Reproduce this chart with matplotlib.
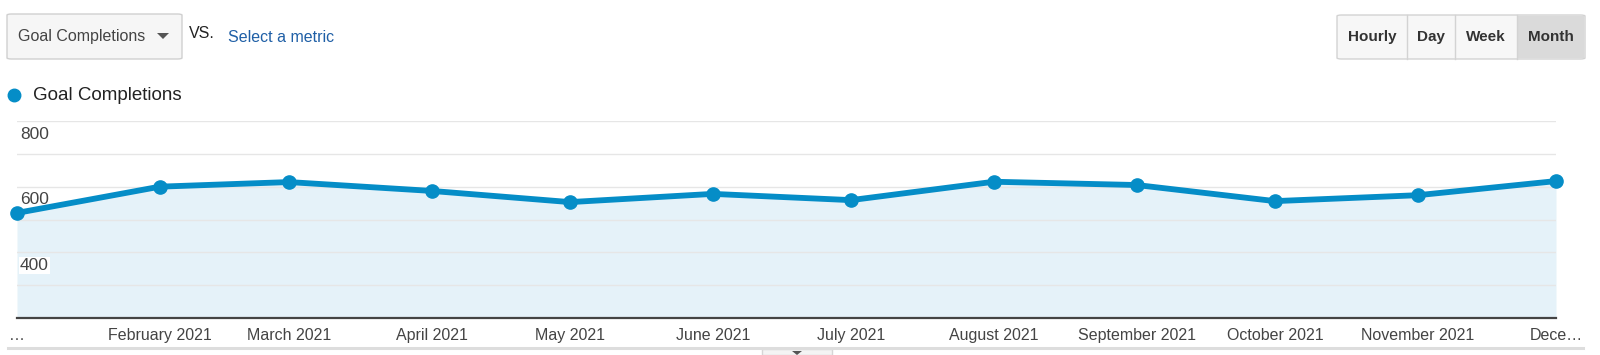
import matplotlib
matplotlib.use("Agg")
import matplotlib.pyplot as plt
from matplotlib.patches import FancyBboxPatch, Rectangle, Polygon
from matplotlib.lines import Line2D
import pandas as pd

plt.rcParams['font.family'] = ['Liberation Sans', 'DejaVu Sans']

# ---- data ----
months = pd.date_range("2021-01-01", periods=12, freq="MS")
goal_completions = [520, 600, 614, 587, 553, 578, 559, 615, 605, 556, 574, 617]
tick_labels = ["\u2026", "February 2021", "March 2021", "April 2021", "May 2021",
               "June 2021", "July 2021", "August 2021", "September 2021",
               "October 2021", "November 2021", "Dece\u2026"]
y_labels = [400, 600, 800]
buttons = ["Hourly", "Day", "Week", "Month"]

LINE = "#058dc7"
FILL = "#e5f2f9"
W, H = 1600, 355


def fx(x):
    return x / W


def fy(y):
    return 1 - y / H


fig = plt.figure(figsize=(16, 3.55), dpi=100)

# ---- main chart ----
ax = fig.add_axes([fx(17), fy(318), fx(1556) - fx(17), fy(121) - fy(318)])
ax.fill_between(months, goal_completions, 200, color=FILL, lw=0, zorder=1)
ax.plot(months, goal_completions, color=LINE, lw=4.2, marker="o", ms=9.5,
        solid_joinstyle="round", zorder=3, clip_on=False)
ax.set_xlim(months[0], months[-1])
ax.set_ylim(200, 800)
for v in range(300, 801, 100):
    ax.axhline(v, color="#e6e6e6", lw=1, zorder=2)
for s in ["top", "left", "right"]:
    ax.spines[s].set_visible(False)
ax.spines["bottom"].set_color("#444444")
ax.spines["bottom"].set_linewidth(1.6)
ax.set_yticks([])
ax.set_xticks(months)
ax.set_xticklabels(tick_labels, fontsize=11.5, color="#444444")
ax.tick_params(axis="x", length=0, pad=7)

# y labels sit inside the plot, just under their gridline (behind the line)
for v in y_labels:
    ax.text(0.002, v - 40, str(v), transform=ax.get_yaxis_transform(),
            fontsize=12.5, color="#444444", va="center", ha="left", zorder=2.5,
            bbox=dict(boxstyle="square,pad=0.05", fc="white", ec="none"))

# ---- top controls ----
fig.patches.append(FancyBboxPatch((fx(7), fy(59)), fx(182) - fx(7), fy(14) - fy(59),
                                  boxstyle="round,pad=0,rounding_size=0.003",
                                  transform=fig.transFigure, fc="#f6f6f6",
                                  ec="#d0d0d0", lw=1))
fig.text(fx(18), fy(37), "Goal Completions", fontsize=11.5, color="#444444", va="center")
fig.patches.append(Polygon([(fx(157), fy(33)), (fx(169), fy(33)), (fx(163), fy(39))],
                           closed=True, transform=fig.transFigure, fc="#555555", ec="none"))
fig.text(fx(189), fy(34), "VS.", fontsize=11.5, color="#222222", va="center")
fig.text(fx(228), fy(37), "Select a metric", fontsize=11.5, color="#1f5fa6", va="center")

# time-granularity buttons
edges = [1337, 1407, 1455, 1517, 1585]
fig.patches.append(FancyBboxPatch((fx(1337), fy(59)), fx(1585) - fx(1337), fy(15) - fy(59),
                                  boxstyle="round,pad=0,rounding_size=0.003",
                                  transform=fig.transFigure, fc="#f7f7f7",
                                  ec="#d3d3d3", lw=1))
fig.patches.append(Rectangle((fx(1517), fy(58)), fx(1584) - fx(1517), fy(16) - fy(58),
                             transform=fig.transFigure, fc="#dadada", ec="none"))
for e in edges[1:-1]:
    fig.add_artist(Line2D([fx(e), fx(e)], [fy(59), fy(15)], transform=fig.transFigure,
                          color="#d3d3d3", lw=1))
for i, b in enumerate(buttons):
    fig.text(fx((edges[i] + edges[i + 1]) / 2), fy(37), b, fontsize=11,
             fontweight="bold", color="#333333", ha="center", va="center")

# legend
fig.add_artist(Line2D([fx(14)], [fy(95)], marker="o", ms=9, color=LINE,
                      transform=fig.transFigure))
fig.text(fx(33), fy(96), "Goal Completions", fontsize=13.5, color="#222222", va="center")

# bottom separator and small tab
fig.add_artist(Line2D([fx(8), fx(1583)], [fy(348), fy(348)], transform=fig.transFigure,
                      color="#dddddd", lw=2.2))
fig.patches.append(Rectangle((fx(762), fy(355)), fx(832) - fx(762), fy(349) - fy(355),
                             transform=fig.transFigure, fc="#f4f4f4", ec="#d6d6d6", lw=1))
fig.patches.append(Polygon([(fx(792), fy(351)), (fx(802), fy(351)), (fx(797), fy(355))],
                           closed=True, transform=fig.transFigure, fc="#555555", ec="none"))

fig.savefig("out.png", dpi=100)
